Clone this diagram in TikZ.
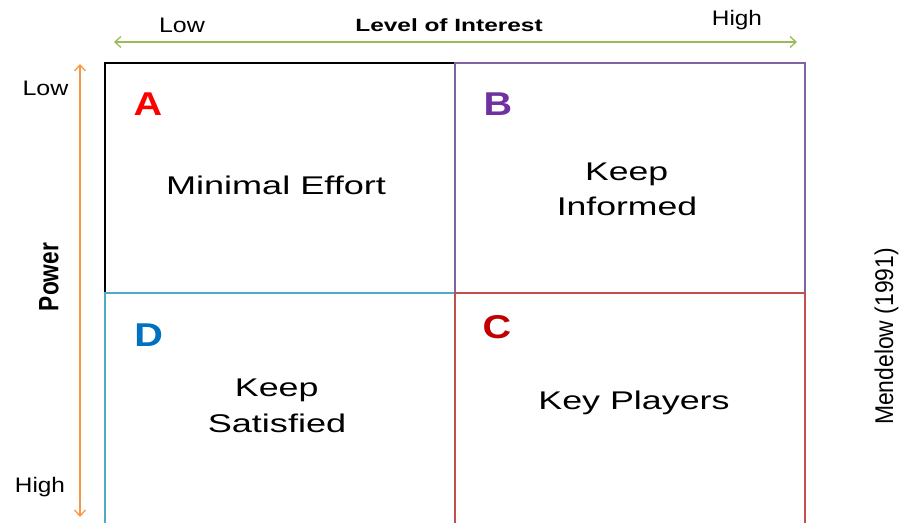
\documentclass[tikz,border=0pt]{standalone}
\usepackage{fontspec}
\setmainfont{Liberation Sans}
\usetikzlibrary{arrows.meta}
\definecolor{gridpurple}{HTML}{8064A2}
\definecolor{gridteal}{HTML}{4BACC6}
\definecolor{gridred}{HTML}{C0504D}
\definecolor{axisgreen}{HTML}{9BBB59}
\definecolor{axisorange}{HTML}{F79646}
\definecolor{lettera}{HTML}{FF0000}
\definecolor{letterb}{HTML}{7030A0}
\definecolor{letterc}{HTML}{C00000}
\definecolor{letterd}{HTML}{0070C0}
\newcommand{\fs}[1]{\fontsize{#1}{#1}\selectfont}
\newcommand{\wide}[2]{\scalebox{#1}[1]{#2}}
\newcommand{\tall}[2]{\scalebox{1}[#1]{#2}}
\begin{document}
\begin{tikzpicture}[x=1pt,y=-1pt,
  lbl/.style={anchor=base,inner sep=0pt,outer sep=0pt},
  quad/.style={line width=2.6pt},
  axis/.style={line width=1.3pt,{Straight Barb[length=6pt,width=11pt]}-{Straight Barb[length=6pt,width=11pt]}},
  cell/.style={lbl,font=\fs{25.6}},
  tag/.style={lbl,font=\fs{33}\bfseries},
  small/.style={lbl,font=\fs{21}}]
\useasboundingbox (0,0) rectangle (899,522);
\clip (0,0) rectangle (899,522);

% quadrants, drawn so shared edges take the later colour
\draw[quad,black] (105,63) rectangle (455,293);
\draw[quad,gridpurple] (455,63) rectangle (805,293);
\draw[quad,gridteal] (105,293) rectangle (455,540);
\draw[quad,gridred] (455,293) rectangle (805,540);

% axes
\coordinate (xl) at (114,42);
\coordinate (xr) at (797,42);
\coordinate (yt) at (80,64);
\coordinate (yb) at (80,517);
\draw[axis,axisgreen] (xl) -- (xr);
\draw[axis,axisorange] (yt) -- (yb);

% axis labels
\node[small] (lowx) at (182,32) {\wide{1.19}{Low}};
\node[lbl,font=\fs{17.7}\bfseries] (interest) at (449,31) {\wide{1.38}{Level of Interest}};
\node[small] (highx) at (737,25) {\wide{1.16}{High}};
\node[small] (lowy) at (45.5,95) {\wide{1.19}{Low}};
\node[small] (highy) at (40,492.7) {\wide{1.16}{High}};
\node[lbl,rotate=90,font=\fs{22.7}\bfseries] (power) at (58.3,277) {\tall{1.23}{Power}};
\node[lbl,rotate=90,font=\fs{22.9}] (source) at (893,336.5) {\tall{1.12}{Mendelow (1991)}};

% quadrant letters
\node[tag,text=lettera] (ta) at (148,115.7) {\wide{1.2}{A}};
\node[tag,text=letterb] (tb) at (498,115.7) {\wide{1.2}{B}};
\node[tag,text=letterc] (tc) at (497,338.5) {\wide{1.2}{C}};
\node[tag,text=letterd] (td) at (148.7,346.7) {\wide{1.2}{D}};

% quadrant texts
\node[cell] (minimal) at (276,194) {\wide{1.41}{Minimal Effort}};
\node[cell] (keepb) at (626.7,180) {\wide{1.39}{Keep}};
\node[cell] (informed) at (627,215.5) {\wide{1.39}{Informed}};
\node[cell] (keepd) at (276.7,396.7) {\wide{1.40}{Keep}};
\node[cell] (satisfied) at (277,432) {\wide{1.41}{Satisfied}};
\node[cell] (players) at (634,409.3) {\wide{1.40}{Key Players}};
\end{tikzpicture}
\end{document}
